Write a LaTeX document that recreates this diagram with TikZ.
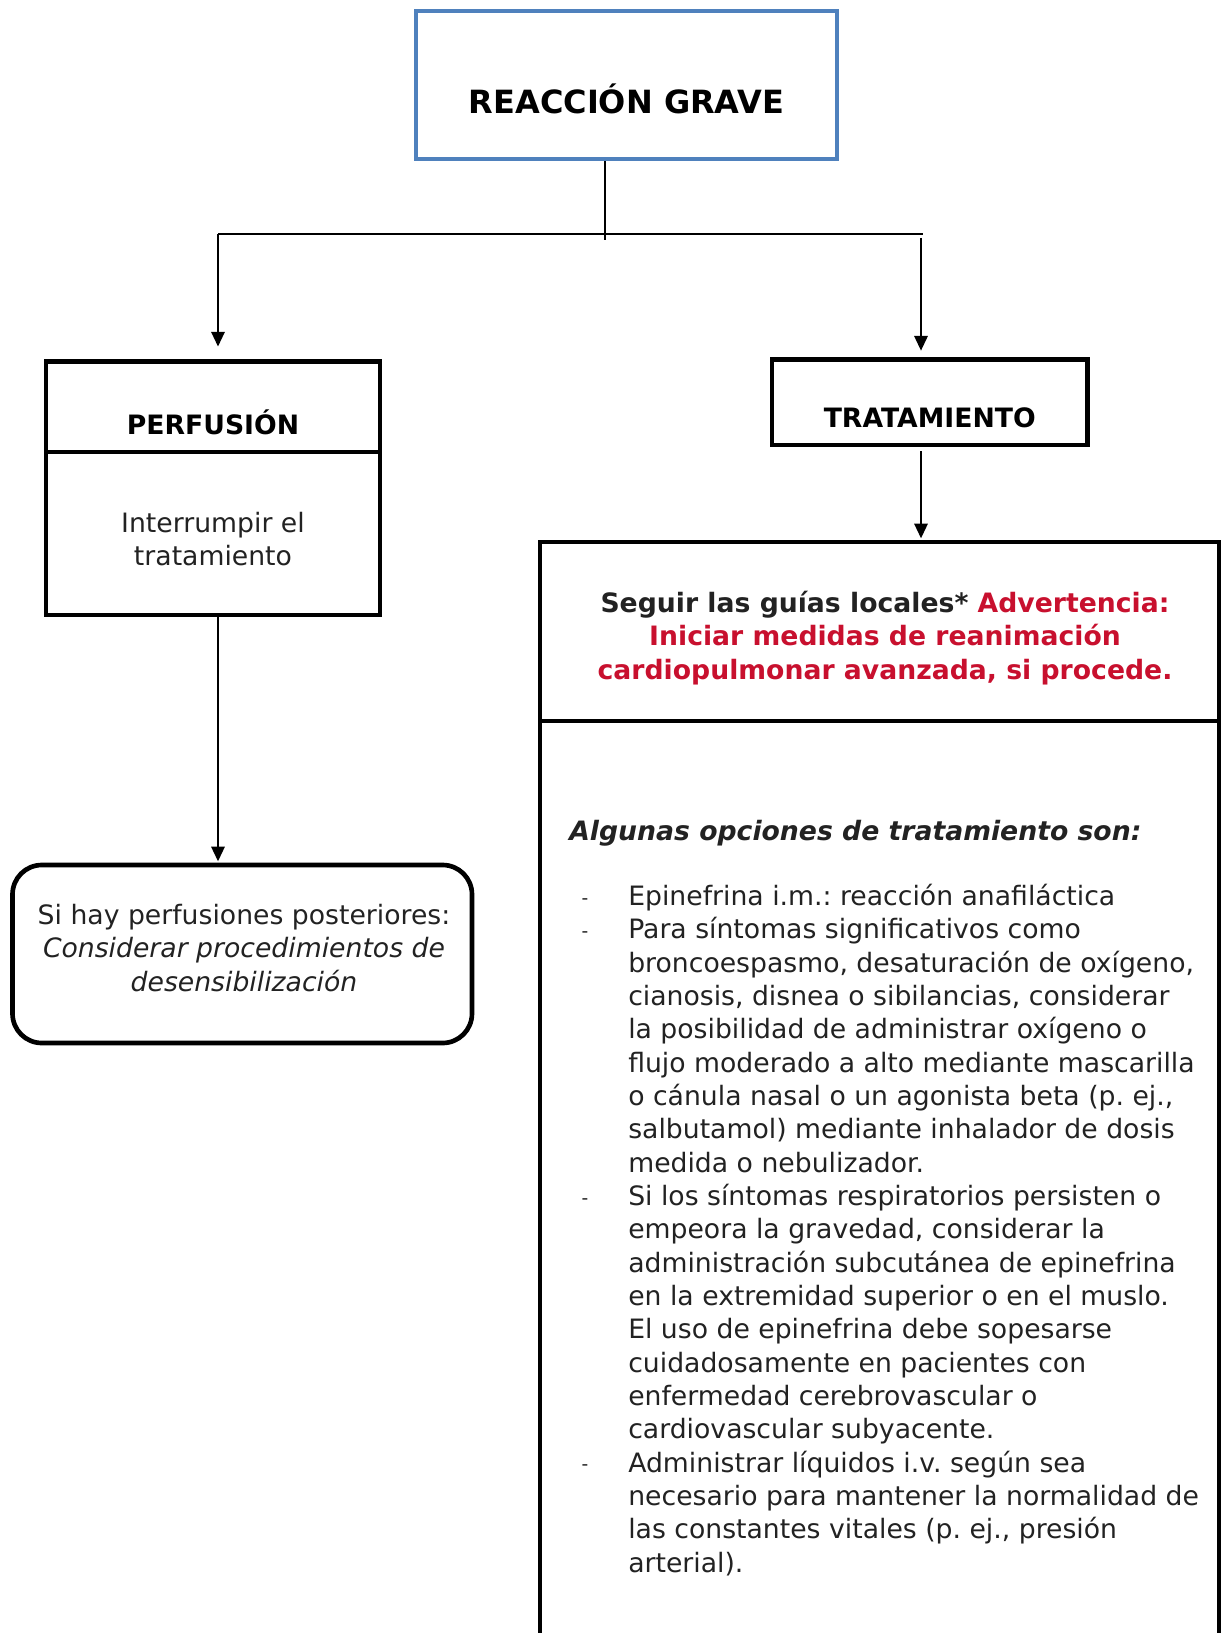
\documentclass[tikz,border=0pt]{standalone}
\usepackage{fontspec}
\setmainfont{DejaVu Sans}
\usetikzlibrary{arrows.meta,positioning,calc}
\definecolor{ink}{RGB}{34,34,34}
\definecolor{frame}{RGB}{79,129,189}
\definecolor{alert}{RGB}{200,16,46}
\frenchspacing
\tikzset{
  box/.style={draw=black,line width=3.5pt,inner sep=0pt},
  topbox/.style={draw=frame,line width=3.5pt,inner sep=0pt,
    minimum width=315.75pt,minimum height=111pt},
  roundbox/.style={box,rounded corners=22pt},
  txt/.style={inner sep=0pt,font=\fontsize{20}{25}\selectfont,text=ink,align=center},
  head/.style={inner sep=0pt,font=\fontsize{20}{25}\selectfont\bfseries,align=center},
  line/.style={line width=1.5pt},
  arr/.style={-{Triangle[length=11pt,width=10pt]},line width=1.5pt},
}
\newcommand{\itemdash}{\llap{\raisebox{1pt}{\fontsize{14}{14}\selectfont -}\hspace{30pt}}}

\begin{document}
\begin{tikzpicture}[x=0.75pt,y=-0.75pt]
  \useasboundingbox (0,0) rectangle (1222,1633);
  \clip (0,0) rectangle (1222,1633);

  % boxes
  \node[topbox] (grave) at (626.5,85) {};
  \node[box,minimum width=250.5pt,minimum height=68pt] (perf) at (213,406.75) {};
  \node[box,minimum width=250.5pt,minimum height=122.25pt] (perfbody) at (213,533.5) {};
  \node[box,minimum width=236.6pt,minimum height=64.1pt] (trat) at (929.75,402.25) {};
  \node[box,minimum width=509.25pt,minimum height=134.25pt] (guia) at (879.5,631.5) {};
  \node[box,minimum width=509.25pt,minimum height=734.25pt] (opc) at (879.5,1210.5) {};
  \node[roundbox,minimum width=344.6pt,minimum height=133.5pt] (desens) at (242.25,954) {};

  % texts
  \node[head,font=\fontsize{24}{30}\selectfont\bfseries,anchor=base] (graveT)
    at (626.5,113.8) {REACCIÓN GRAVE};
  \node[head,anchor=base] (perfT) at (213,434) {PERFUSIÓN};
  \node[head,anchor=base] (tratT) at (929.75,427.5) {TRATAMIENTO};
  \node[txt,anchor=north] (perfbodyT) at (213,512) {Interrumpir el\\tratamiento};
  \node[head,text=ink,anchor=north] (guiaT) at (885,591)
    {Seguir las guías locales* \textcolor{alert}{Advertencia:}\\
     \textcolor{alert}{Iniciar medidas de reanimación}\\
     \textcolor{alert}{cardiopulmonar avanzada, si procede.}};
  \node[txt,anchor=north] (desensT) at (244,904)
    {Si hay perfusiones posteriores:\\
     \textit{Considerar procedimientos de}\\
     \textit{desensibilización}};
  \node[txt,font=\fontsize{20}{25}\selectfont\bfseries\itshape,anchor=base west] (opcT)
    at (569,840) {Algunas opciones de tratamiento son:};
  \node[txt,align=left,anchor=north west] (opcL) at (628,884)
    {\itemdash Epinefrina i.m.: reacción anafiláctica\\
     \itemdash Para síntomas significativos como\\
     broncoespasmo, desaturación de oxígeno,\\
     cianosis, disnea o sibilancias, considerar\\
     la posibilidad de administrar oxígeno o\\
     flujo moderado a alto mediante mascarilla\\
     o cánula nasal o un agonista beta (p. ej.,\\
     salbutamol) mediante inhalador de dosis\\
     medida o nebulizador.\\
     \itemdash Si los síntomas respiratorios persisten o\\
     empeora la gravedad, considerar la\\
     administración subcutánea de epinefrina\\
     en la extremidad superior o en el muslo.\\
     El uso de epinefrina debe sopesarse\\
     cuidadosamente en pacientes con\\
     enfermedad cerebrovascular o\\
     cardiovascular subyacente.\\
     \itemdash Administrar líquidos i.v. según sea\\
     necesario para mantener la normalidad de\\
     las constantes vitales (p. ej., presión\\
     arterial).};

  % connectors
  \coordinate (hub) at (605,234);
  \coordinate (hubL) at (218,234);
  \coordinate (hubR) at (921,234);
  \draw[line] (grave.south -| hub) -- ([yshift=-4.5pt]hub);
  \draw[line] (hubL) -- ([xshift=1.5pt]hubR);
  \draw[arr] (hubL) -- ([yshift=9.4pt]perf.north -| hubL);
  \draw[arr] ([yshift=-3pt]hubR) -- ([yshift=4.9pt]trat.north -| hubR);
  \draw[arr] ([yshift=-3pt]trat.south -| hubR) -- ([yshift=1pt]guia.north -| hubR);
  \draw[arr] (perfbody.south -| hubL) -- ([yshift=1pt]desens.north -| hubL);
\end{tikzpicture}
\end{document}
